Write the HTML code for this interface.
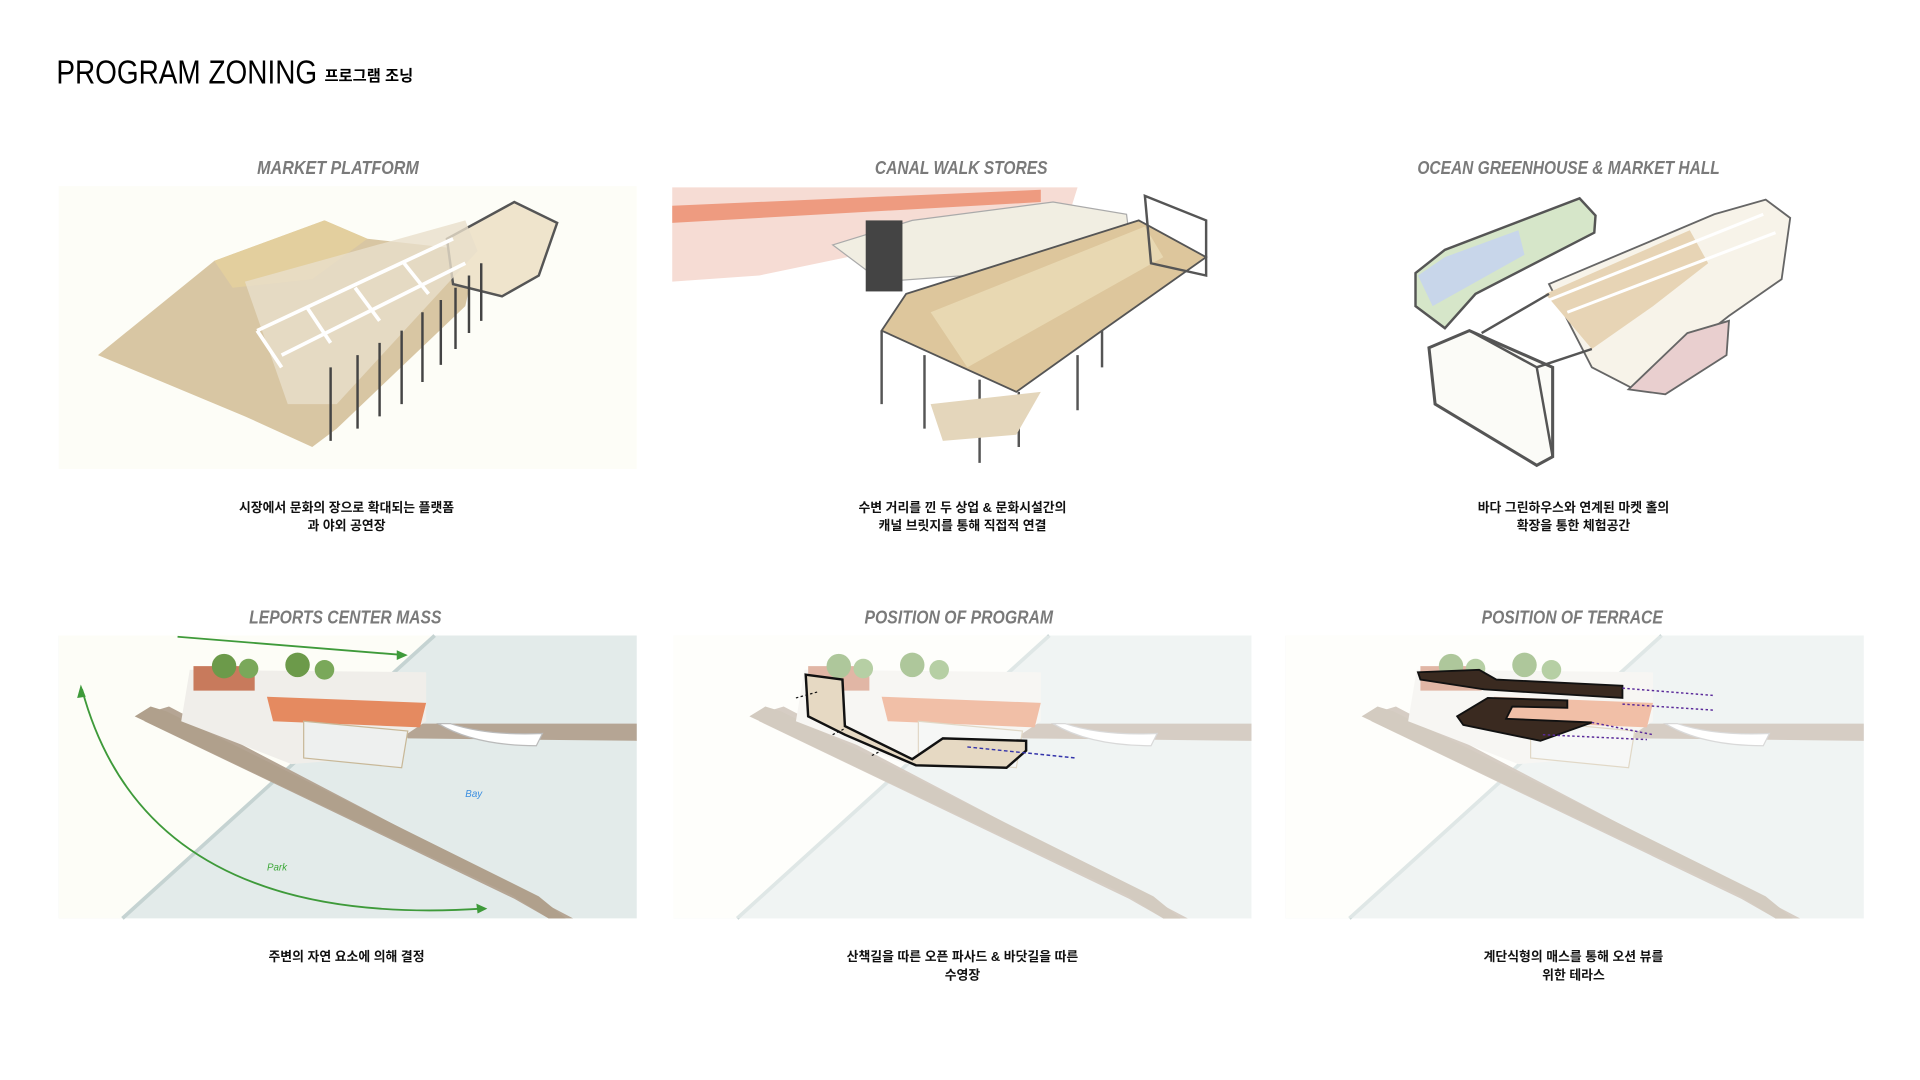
<!DOCTYPE html>
<html><head><meta charset="utf-8"><style>
html,body{margin:0;padding:0;background:#fff;}
svg{display:block;}
.h{font-family:"Liberation Sans Narrow","Liberation Sans",sans-serif;font-weight:bold;font-style:italic;fill:#7a7a7a;font-size:15px;}
.c{font-family:"Liberation Sans","Noto Sans CJK KR",sans-serif;font-weight:bold;fill:#111;font-size:10.5px;}
</style></head><body>
<svg width="1920" height="1080" viewBox="0 0 1568 882" preserveAspectRatio="none" xmlns="http://www.w3.org/2000/svg">
<rect width="1568" height="882" fill="#fff"/>
<text x="46" y="68" font-family="Liberation Sans Narrow,Liberation Sans,sans-serif" font-size="27" fill="#000" textLength="213" lengthAdjust="spacingAndGlyphs">PROGRAM ZONING</text>
<text x="265" y="66" font-family="Liberation Sans,Noto Sans CJK KR,sans-serif" font-weight="bold" font-size="12.5" fill="#000">프로그램 조닝</text>

<!-- headings -->
<text class="h" x="276" y="142" text-anchor="middle" textLength="132" lengthAdjust="spacingAndGlyphs">MARKET PLATFORM</text>
<text class="h" x="785" y="142" text-anchor="middle" textLength="141" lengthAdjust="spacingAndGlyphs">CANAL WALK STORES</text>
<text class="h" x="1281" y="142" text-anchor="middle" textLength="247" lengthAdjust="spacingAndGlyphs">OCEAN GREENHOUSE &amp; MARKET HALL</text>
<text class="h" x="282" y="509" text-anchor="middle" textLength="157" lengthAdjust="spacingAndGlyphs">LEPORTS CENTER MASS</text>
<text class="h" x="783" y="509" text-anchor="middle" textLength="154" lengthAdjust="spacingAndGlyphs">POSITION OF PROGRAM</text>
<text class="h" x="1284" y="509" text-anchor="middle" textLength="148" lengthAdjust="spacingAndGlyphs">POSITION OF TERRACE</text>

<!-- ROW 1 PANEL 1 -->
<rect x="48" y="152" width="472" height="231" fill="#fdfdf7"/>
<polygon points="80,290 175,213 265,180 300,195 390,205 380,250 275,350 255,365 200,340" fill="#d8c6a3"/>
<polygon points="175,213 265,180 300,195 255,228 190,235" fill="#e3cf9e"/>
<polygon points="365,195 420,165 455,182 440,225 410,242 370,232" fill="#efe4cc" stroke="#555" stroke-width="2"/>
<polygon points="200,230 380,180 390,205 275,330 235,330" fill="#e9dfcb" opacity=".8"/>
<g stroke="#fff" stroke-width="3" fill="none">
<path d="M210,270 L370,195 M230,290 L380,215 M210,270 L230,300 M250,250 L270,280 M290,235 L310,262 M330,215 L350,240"/>
</g>
<g stroke="#444" stroke-width="2">
<path d="M270,300 V360 M292,290 V350 M310,280 V340 M328,270 V330 M345,255 V312 M360,245 V298 M372,235 V285 M383,225 V272 M393,215 V262"/>
</g>
<!-- ROW 1 PANEL 2 -->
<rect x="549" y="152" width="473" height="231" fill="#fff"/>
<polygon points="549,153 880,153 870,185 740,200 620,225 549,230" fill="#f6dcd4"/>
<polygon points="549,168 850,155 850,165 549,182" fill="#ee9b80"/>
<polygon points="680,200 745,180 860,165 920,175 925,215 720,230" fill="#f1eee2" stroke="#aaa"/>
<rect x="707" y="180" width="30" height="58" fill="#444"/>
<polygon points="740,240 930,180 985,210 900,270 830,320 720,270" fill="#ddc69c" stroke="#555" stroke-width="1.5"/>
<polygon points="760,255 935,185 950,210 790,300" fill="#e8d8b2"/>
<polygon points="935,160 985,180 985,225 940,215" fill="none" stroke="#555" stroke-width="2"/>
<path d="M720,270 V330 M755,290 V350 M800,310 V378 M832,320 V365 M880,290 V335 M900,270 V300" stroke="#555" stroke-width="2"/>
<polygon points="760,330 850,320 830,355 770,360" fill="#e4d6bb"/>
<!-- ROW 1 PANEL 3 -->
<rect x="1048" y="152" width="472" height="231" fill="#fff"/>
<polygon points="1265,232 1400,175 1442,163 1462,178 1455,228 1412,258 1335,318 1300,300" fill="#f7f3e9" stroke="#666" stroke-width="1.5"/>
<polygon points="1262,240 1380,188 1395,215 1350,250 1300,285" fill="#e7d4b5"/>
<polygon points="1330,318 1378,272 1412,262 1410,290 1360,322" fill="#e9cfcf" stroke="#666" stroke-width="1.5"/>
<polygon points="1156,223 1180,204 1290,162 1303,176 1302,190 1205,240 1180,268 1156,250" fill="#d6e6c9" stroke="#555" stroke-width="2"/>
<polygon points="1158,225 1180,210 1240,188 1245,208 1170,250" fill="#c8d6ea"/>
<polygon points="1167,284 1200,270 1268,300 1268,373 1255,380 1172,330" fill="#fbfbf7" stroke="#555" stroke-width="2.5"/>
<path d="M1200,270 L1255,300 L1268,373 M1210,272 L1265,240 M1255,300 L1300,285" stroke="#555" stroke-width="2" fill="none"/>
<g stroke="#fff" stroke-width="2.5"><path d="M1265,245 L1440,175 M1280,255 L1450,190"/></g>

<!-- captions row1 -->
<text class="c" x="283" y="418" text-anchor="middle">시장에서 문화의 장으로 확대되는 플랫폼</text>
<text class="c" x="283" y="433" text-anchor="middle">과 야외 공연장</text>
<text class="c" x="786" y="418" text-anchor="middle">수변 거리를 낀 두 상업 &amp; 문화시설간의</text>
<text class="c" x="786" y="433" text-anchor="middle">캐널 브릿지를 통해 직접적 연결</text>
<text class="c" x="1285" y="418" text-anchor="middle">바다 그린하우스와 연계된 마켓 홀의</text>
<text class="c" x="1285" y="433" text-anchor="middle">확장을 통한 체험공간</text>

<!-- ROW 2 template panels -->
<defs>
<g id="site">
<rect x="0" y="0" width="472" height="231" fill="#e3ebea"/>
<polygon points="0,0 307,0 52,231 0,231" fill="#fdfdf7"/>
<path d="M307,0 L52,231" stroke="#c5d3d2" stroke-width="3"/>
<polygon points="70,64 90,58 380,210 420,231 400,231 372,215 70,70" fill="#b5a594"/>
<polygon points="62,66 75,58 88,62 392,213 414,231 400,231 370,212" fill="#b0a08c"/>
<polygon points="280,72 472,72 472,86 285,84" fill="#b5a594"/>
<polygon points="107,28 300,30 300,70 255,100 190,105 100,70" fill="#f0eeea"/>
<polygon points="110,25 160,25 160,45 110,45" fill="#c87a5c"/>
<polygon points="170,50 300,55 295,75 175,70" fill="#e58a60"/>
<polygon points="200,70 285,78 280,108 200,100" fill="#eef0ef" stroke="#c8b898"/>
<circle cx="135" cy="25" r="10" fill="#6c9a4a"/><circle cx="155" cy="27" r="8" fill="#7aa85a"/>
<circle cx="195" cy="24" r="10" fill="#6c9a4a"/><circle cx="217" cy="28" r="8" fill="#7aa85a"/>
<path d="M310,72 Q340,90 390,90 L395,80 Q350,82 320,72 Z" fill="#fff" stroke="#bbb"/>
</g>
</defs>
<g transform="translate(48,519)"><use href="#site"/></g>
<path d="M145,520 L330,535" stroke="#3e9a3a" stroke-width="1.5" fill="none"/>
<polygon points="333,535 324,531 324,539" fill="#3e9a3a"/>
<path d="M67,563 Q120,760 395,742" stroke="#3e9a3a" stroke-width="1.5" fill="none"/>
<polygon points="66,559 63,570 70,569" fill="#3e9a3a"/><polygon points="398,742 389,738 390,746" fill="#3e9a3a"/>
<text x="380" y="651" font-family="Liberation Sans,sans-serif" font-style="italic" font-size="8" fill="#3b8ee0">Bay</text>
<text x="218" y="711" font-family="Liberation Sans,sans-serif" font-style="italic" font-size="8" fill="#3ea83a">Park</text>

<g transform="translate(550,519)"><use href="#site"/><rect width="472" height="231" fill="#fff" opacity=".45"/></g>
<polygon points="658,551 688,555 690,593 745,620 770,603 838,605 838,613 822,627 748,625 690,600 660,585" fill="#e6d9c3" stroke="#111" stroke-width="2"/>
<path d="M790,610 L878,619" stroke="#33a" stroke-width="1.2" stroke-dasharray="3,2"/>
<path d="M650,570 L668,565 M680,600 L690,595 M712,617 L722,612" stroke="#111" stroke-width="1" stroke-dasharray="2,2"/>

<g transform="translate(1050,519)"><use href="#site"/><rect width="472" height="231" fill="#fff" opacity=".45"/></g>
<polygon points="1158,549 1208,547 1222,555 1325,560 1325,570 1212,563 1160,555" fill="#3a2a20" stroke="#111" stroke-width="1.5"/>
<polygon points="1190,585 1215,570 1280,572 1280,578 1235,577 1230,587 1300,590 1258,605 1195,592" fill="#3a2a20" stroke="#111" stroke-width="1.5"/>
<path d="M1325,562 L1400,568 M1325,575 L1400,580 M1300,590 L1350,600 M1260,600 L1345,604" stroke="#5a2a9a" stroke-width="1.2" stroke-dasharray="2,2"/>

<!-- captions row2 -->
<text class="c" x="283" y="785" text-anchor="middle">주변의 자연 요소에 의해 결정</text>
<text class="c" x="786" y="785" text-anchor="middle">산책길을 따른 오픈 파사드 &amp; 바닷길을 따른</text>
<text class="c" x="786" y="800" text-anchor="middle">수영장</text>
<text class="c" x="1285" y="785" text-anchor="middle">계단식형의 매스를 통해 오션 뷰를</text>
<text class="c" x="1285" y="800" text-anchor="middle">위한 테라스</text>
</svg>
</body></html>
